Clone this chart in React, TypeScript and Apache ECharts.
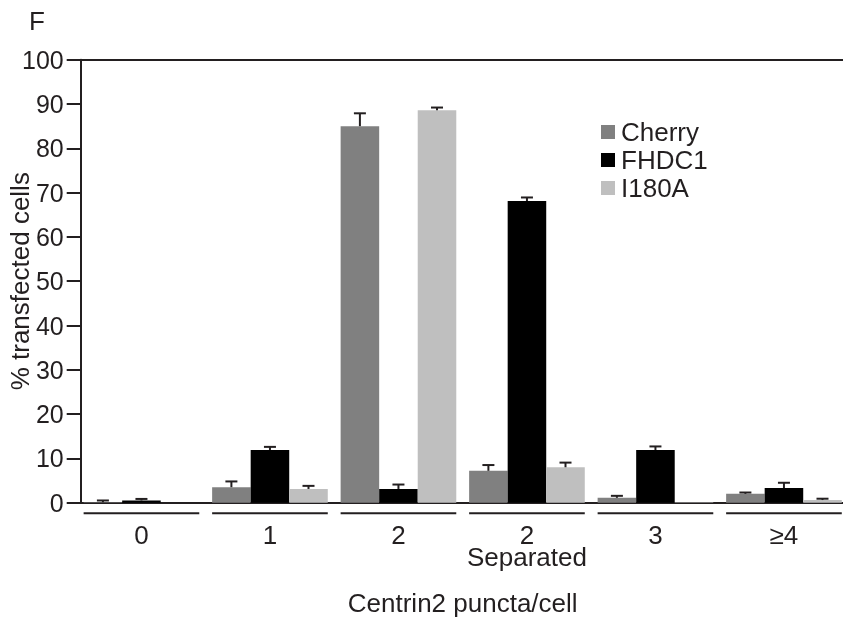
import React, { useEffect, useRef } from "react";
import * as echarts from "echarts";

const categories = ["0", "1", "2", "2\nSeparated", "3", "≥4"];
const seriesNames = ["Cherry", "FHDC1", "I180A"];
const cherry = [0.1, 3.5, 85.0, 7.2, 1.1, 2.0];
const fhdc1 = [0.5, 11.9, 3.1, 68.1, 11.9, 3.3];
const i180a = [0, 3.1, 88.6, 8.0, 0.1, 0.6];
const cherryErr = [0.4, 1.3, 2.9, 1.3, 0.45, 0.3];
const fhdc1Err = [0.35, 0.7, 1.0, 0.8, 0.8, 1.2];
const i180aErr = [0, 0.7, 0.6, 1.05, 0, 0.3];
const colors = ["#808080", "#000000", "#bfbfbf"];

const FONT = "'Liberation Sans', Arial, Helvetica, sans-serif";
const INK = "#231f20";
const CAT_GAP = 0.1;

export default function App() {
  const ref = useRef<HTMLDivElement>(null);
  useEffect(() => {
    if (!ref.current) return;
    const chart = echarts.init(ref.current, undefined, { renderer: "svg" });
    const values = [cherry, fhdc1, i180a];
    const errs = [cherryErr, fhdc1Err, i180aErr];
    const errData: number[][] = [];
    values.forEach((arr, s) => {
      arr.forEach((v, c) => {
        if (errs[s][c] > 0) errData.push([c, v, errs[s][c], s]);
      });
    });
    const option: any = {
      animation: false,
      textStyle: { fontFamily: FONT },
      grid: {
        left: 77.2,
        top: 59.7,
        width: 771,
        height: 443,
        containLabel: false,
        outerBoundsMode: "none",
      },
      legend: {
        data: seriesNames,
        orient: "vertical",
        left: 601,
        top: 119,
        icon: "rect",
        itemWidth: 14,
        itemHeight: 14,
        itemGap: 2,
        padding: 0,
        textStyle: { fontFamily: FONT, fontSize: 26, color: INK, lineHeight: 24.7, padding: [0, 0, 0, 1] },
      },
      graphic: [
        {
          type: "text",
          left: 29,
          top: 8,
          style: { text: "F", font: `26px ${FONT}`, fill: INK },
        },
      ],
      xAxis: [
        {
          type: "category",
          data: categories,
          position: "bottom",
          axisLine: { show: true, lineStyle: { color: INK, width: 2 } },
          axisTick: { show: false },
          axisLabel: { interval: 0, margin: 21, fontSize: 26, lineHeight: 22, color: INK, fontFamily: FONT },
          name: "Centrin2 puncta/cell",
          nameLocation: "middle",
          nameGap: 87,
          nameMoveOverlap: false,
          nameTextStyle: { fontSize: 26, color: INK, fontFamily: FONT },
        },
        {
          type: "category",
          data: categories,
          position: "top",
          axisLine: { show: true, onZero: false, lineStyle: { color: INK, width: 2 } },
          axisTick: { show: false },
          axisLabel: { show: false },
        },
      ],
      yAxis: {
        type: "value",
        min: 0,
        max: 100,
        interval: 10,
        offset: -3.5,
        axisLine: { show: true, lineStyle: { color: INK, width: 2 } },
        axisTick: { show: true, length: 14, lineStyle: { color: INK, width: 2 } },
        axisLabel: { margin: 17, fontSize: 25, color: INK, fontFamily: FONT },
        splitLine: { show: false },
        name: "% transfected cells",
        nameLocation: "middle",
        nameGap: 48,
        nameMoveOverlap: false,
        nameTextStyle: { fontSize: 26, color: INK, fontFamily: FONT },
      },
      series: [
        ...seriesNames.map((name, i) => ({
          name,
          type: "bar",
          data: values[i],
          barGap: "0%",
          barCategoryGap: "10%",
          itemStyle: { color: colors[i] },
          z: 2,
        })),
        {
          type: "custom",
          name: "errors",
          data: errData,
          clip: false,
          z: 3,
          renderItem: (params: any, api: any) => {
            const c = api.value(0);
            const v = api.value(1);
            const e = api.value(2);
            const s = api.value(3);
            const base = api.coord([c, v]);
            const top = api.coord([c, v + e]);
            const bandW = api.size([1, 0])[0];
            const barW = (bandW * (1 - CAT_GAP)) / 3;
            const x = base[0] + (s - 1) * barW;
            const style = { stroke: INK, lineWidth: 2 };
            return {
              type: "group",
              children: [
                { type: "line", shape: { x1: x, y1: base[1], x2: x, y2: top[1] }, style },
                { type: "line", shape: { x1: x - 6, y1: top[1], x2: x + 6, y2: top[1] }, style },
              ],
            };
          },
        },
        {
          type: "custom",
          name: "underlines",
          data: categories.map((_, i) => [i, 0]),
          clip: false,
          z: 3,
          renderItem: (params: any, api: any) => {
            const c = api.value(0);
            const p = api.coord([c, 0]);
            const bandW = api.size([1, 0])[0];
            const half = (bandW * (1 - CAT_GAP)) / 2;
            const y = p[1] + 10.5;
            return {
              type: "line",
              shape: { x1: p[0] - half, y1: y, x2: p[0] + half, y2: y },
              style: { stroke: INK, lineWidth: 2 },
            };
          },
        },
      ],
    };
    chart.setOption(option);
    return () => chart.dispose();
  }, []);
  return (
    <div
      ref={ref}
      style={{ position: "fixed", left: 0, top: 0, width: 843, height: 622 }}
    />
  );
}
